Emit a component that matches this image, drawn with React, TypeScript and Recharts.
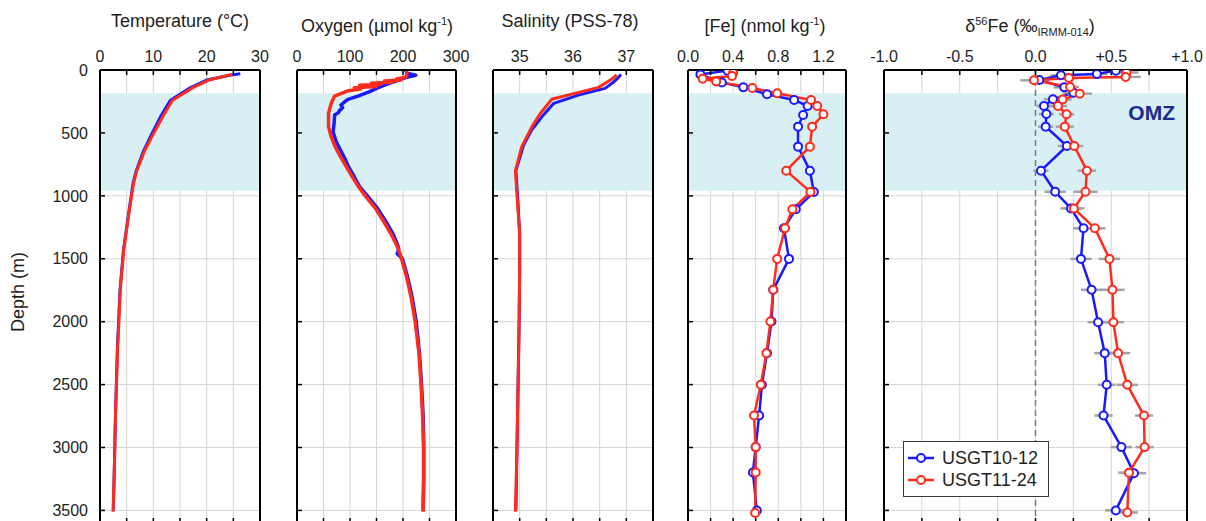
import React from 'react';
import {
  LineChart,
  Line,
  XAxis,
  YAxis,
  CartesianGrid,
  ReferenceArea,
  ReferenceLine,
  ErrorBar,
  Legend,
} from 'recharts';

const FONT = '"Liberation Sans", Arial, Helvetica, sans-serif';
const INK = '#1e1e1e';
const BLUE = '#1a1aff';
const RED = '#ff2b1c';
const GRID = '#d6d6d6';
const OMZ_FILL = '#d8f0f4';

// plot area runs from y=70 down to y=523 (bottom edge sits just below the page)
const CHART_H = 524;
const TOP_AXIS_H = 70;
// room either side of each plot so the end tick labels are not clipped
const SIDE = 24;

const depthDomain: [number, number] = [0, 3600];
const depthTicks = [0, 500, 1000, 1500, 2000, 2500, 3000, 3500];
const omzTop = 185;
const omzBottom = 960;

const cruise10 = 'USGT10-12';
const cruise11 = 'USGT11-24';

// ---- Temperature (°C)
const tempDepth10 = [30, 40, 80, 140, 240, 360, 500, 640, 800, 900, 1100, 1430, 1750, 2220, 2750, 3150, 3500];
const temp10 = [26.3, 24.6, 20.0, 17.0, 13.2, 11.5, 9.8, 8.2, 6.8, 6.2, 5.5, 4.4, 3.75, 3.25, 2.9, 2.7, 2.5];
const tempDepth11 = [35, 80, 140, 240, 360, 500, 640, 800, 900, 1100, 1430, 1750, 2220, 2750, 3150, 3510];
const temp11 = [24.8, 20.4, 17.4, 13.6, 11.9, 10.1, 8.4, 6.9, 6.3, 5.55, 4.45, 3.8, 3.3, 2.9, 2.7, 2.45];

// ---- Oxygen (µmol/kg)
const oxyDepth10 = [0, 25, 42, 60, 80, 101, 120, 146, 172, 207, 233, 260, 278, 300, 323, 340, 357, 424, 490, 570, 636, 702, 768, 848, 927, 1007, 1100, 1200, 1300, 1380, 1420, 1460, 1500, 1650, 1800, 2000, 2250, 2500, 2750, 3000, 3250, 3500];
const oxy10 = [205, 207, 224, 205, 192, 178, 165, 150, 137, 115, 96, 88, 83, 86, 80, 78, 71, 70, 68, 74, 82, 90, 97, 108, 118, 134, 152, 167, 181, 189, 192, 189, 199, 209, 217, 225, 231, 235, 238, 239, 239, 238];
const oxyDepth11 = [0, 50, 62, 72, 80, 88, 96, 105, 114, 122, 132, 142, 152, 165, 185, 207, 265, 344, 450, 530, 609, 689, 768, 861, 940, 1012, 1100, 1200, 1300, 1400, 1480, 1650, 1800, 2000, 2250, 2500, 2750, 3000, 3250, 3510];
const oxy11 = [207, 207, 200, 188, 196, 165, 182, 140, 158, 118, 150, 108, 120, 96, 84, 71, 64.5, 59.5, 59.5, 64.5, 72, 82, 93, 106, 118, 131, 148, 163, 177, 189, 196, 207, 215, 223, 230, 234, 237, 239, 239, 238];

// ---- Salinity (PSS-78)
const salDepth10 = [35, 60, 100, 146, 200, 265, 370, 480, 600, 700, 800, 1000, 1300, 1600, 2000, 2500, 3000, 3500];
const sal10 = [36.9, 36.85, 36.75, 36.6, 36.1, 35.64, 35.42, 35.22, 35.07, 35.0, 34.93, 34.96, 35.0, 35.0, 34.99, 34.97, 34.95, 34.93];
const salDepth11 = [40, 80, 138, 233, 344, 450, 609, 800, 1000, 1300, 1600, 2000, 2500, 3000, 3510];
const sal11 = [36.82, 36.7, 36.48, 35.6, 35.39, 35.23, 35.04, 34.92, 34.95, 35.0, 35.0, 34.99, 34.97, 34.95, 34.92];

// ---- Dissolved Fe (nmol/kg)
const feDepth10 = [5, 35, 100, 138, 193, 238, 286, 357, 450, 609, 800, 970, 1107, 1258, 1501, 1747, 1999, 2250, 2502, 2746, 2997, 3198, 3500];
const fe10 = [0.35, 0.11, 0.3, 0.49, 0.7, 0.94, 1.06, 1.02, 0.975, 0.975, 1.08, 1.115, 0.955, 0.85, 0.895, 0.755, 0.74, 0.7, 0.655, 0.63, 0.6, 0.575, 0.61];
const feDepth11 = [22, 48, 70, 92, 143, 185, 238, 286, 352, 450, 609, 800, 969, 1107, 1258, 1501, 1747, 1999, 2250, 2502, 2746, 2997, 3198, 3520];
const fe11 = [0.4, 0.39, 0.13, 0.25, 0.57, 0.79, 1.09, 1.145, 1.2, 1.1, 1.08, 0.87, 1.085, 0.925, 0.86, 0.79, 0.755, 0.73, 0.695, 0.645, 0.585, 0.6, 0.6, 0.595];

// ---- δ56Fe (‰) with 2SD
const d56Depth10 = [5, 32, 42, 79, 138, 180, 233, 286, 350, 450, 604, 800, 968, 1100, 1258, 1501, 1747, 2004, 2250, 2502, 2746, 2997, 3204, 3500];
const d5610 = [0.53, 0.405, 0.168, 0.025, 0.19, 0.25, 0.115, 0.056, 0.072, 0.067, 0.207, 0.036, 0.13, 0.234, 0.317, 0.3, 0.37, 0.413, 0.457, 0.47, 0.449, 0.567, 0.65, 0.53];
const d56Err10 = [0.05, 0.07, 0.07, 0.07, 0.07, 0.07, 0.06, 0.05, 0.05, 0.05, 0.06, 0.05, 0.07, 0.07, 0.07, 0.07, 0.07, 0.07, 0.07, 0.06, 0.06, 0.07, 0.08, 0.07];
const d56Depth11 = [20, 55, 64, 82, 135, 188, 235, 286, 352, 450, 604, 800, 968, 1100, 1258, 1501, 1747, 2004, 2250, 2502, 2746, 2997, 3200, 3516];
const d5611 = [0.6, 0.595, 0.22, -0.01, 0.228, 0.292, 0.179, 0.148, 0.205, 0.193, 0.256, 0.339, 0.33, 0.253, 0.392, 0.488, 0.508, 0.514, 0.545, 0.606, 0.716, 0.72, 0.617, 0.606];
const d56Err11 = [0.08, 0.1, 0.06, 0.09, 0.06, 0.08, 0.06, 0.06, 0.05, 0.06, 0.06, 0.06, 0.08, 0.07, 0.07, 0.07, 0.08, 0.07, 0.08, 0.07, 0.06, 0.06, 0.07, 0.07];

// x-axis ticks (every gridline gets a tick, only some are labelled)
const tempTicks = [0, 5, 10, 15, 20, 25, 30];
const oxyTicks = [0, 50, 100, 150, 200, 250, 300];
const salTicks = [34.5, 35, 35.5, 36, 36.5, 37, 37.5];
const feTicks = [0, 0.2, 0.4, 0.6, 0.8, 1.0, 1.2, 1.4];
const d56Ticks = [-1, -0.75, -0.5, -0.25, 0, 0.25, 0.5, 0.75, 1];

type Pt = { d: number; v: number; e?: number };

const profile = (depths: number[], values: number[], errs?: number[]): Pt[] =>
  depths.map((d, i) => (errs ? { d, v: values[i], e: errs[i] } : { d, v: values[i] }));

type Series = { name: string; color: string; data: Pt[]; width: number; dots?: boolean; errors?: boolean };

const blank = () => '';

const DepthLabel = () => (
  <text
    x={18}
    y={292}
    transform="rotate(-90 18 292)"
    textAnchor="middle"
    dominantBaseline="central"
    fontSize={18}
    fill={INK}
  >
    Depth (m)
  </text>
);

const LegendBox = (props: any) => {
  const items = props.payload || [];
  return (
    <div
      style={{
        border: '1.5px solid #3a3a3a',
        background: '#fff',
        padding: '5px 6px 5px 4px',
        fontSize: 18,
        lineHeight: '22px',
        color: INK,
        boxSizing: 'border-box',
      }}
    >
      {items.map((it: any) => (
        <div key={it.value} style={{ display: 'flex', alignItems: 'center' }}>
          <svg width={26} height={12} style={{ marginRight: 8 }}>
            <line x1={0} y1={6} x2={26} y2={6} stroke={it.color} strokeWidth={2.5} />
            <circle cx={13} cy={6} r={4} fill="#fff" stroke={it.color} strokeWidth={2} />
          </svg>
          <span>{it.value}</span>
        </div>
      ))}
    </div>
  );
};

interface PanelProps {
  left: number;
  leftAxisWidth: number;
  plotWidth: number;
  domain: [number, number];
  ticks: number[];
  format: (v: number) => string;
  series: Series[];
  depthLabels?: boolean;
  zeroLine?: boolean;
  omzLabel?: boolean;
  legend?: boolean;
}

function Panel(p: PanelProps) {
  const padLeft = p.depthLabels ? 0 : SIDE;
  const width = padLeft + p.leftAxisWidth + p.plotWidth + 1 + SIDE;
  const frame = { stroke: '#000', strokeWidth: 2 };
  const tickLine = { stroke: '#000', strokeWidth: 1.5 };
  return (
    <div style={{ position: 'absolute', left: p.left - padLeft, top: 0 }}>
      <LineChart
        layout="vertical"
        width={width}
        height={CHART_H}
        margin={{ top: 0, right: SIDE, bottom: 0, left: padLeft }}
      >
        <ReferenceArea
          y1={omzTop}
          y2={omzBottom}
          fill={OMZ_FILL}
          fillOpacity={1}
          stroke="none"
          label={
            p.omzLabel
              ? { value: 'OMZ', position: 'insideTopRight', offset: 12, fill: '#1b2a8c', fontSize: 21, fontWeight: 700 }
              : undefined
          }
        />
        <CartesianGrid stroke={GRID} strokeWidth={1} />
        {p.zeroLine && <ReferenceLine x={0} stroke="#7a7a7a" strokeWidth={1.5} strokeDasharray="6 4" />}
        <XAxis
          type="number"
          orientation="top"
          height={TOP_AXIS_H}
          domain={p.domain}
          ticks={p.ticks}
          interval={0}
          allowDataOverflow
          tickFormatter={p.format}
          tickSize={-5}
          tickMargin={13}
          axisLine={frame}
          tickLine={tickLine}
          tick={{ fontSize: 16, fill: INK }}
        />
        <XAxis
          xAxisId="b"
          type="number"
          orientation="bottom"
          height={1}
          domain={p.domain}
          ticks={p.ticks}
          interval={0}
          allowDataOverflow
          tickFormatter={blank}
          tickSize={-5}
          axisLine={frame}
          tickLine={tickLine}
        />
        <YAxis
          type="number"
          dataKey="d"
          width={p.leftAxisWidth}
          domain={depthDomain}
          ticks={depthTicks}
          interval={0}
          allowDataOverflow
          tickFormatter={p.depthLabels ? (v: number) => String(v) : blank}
          tickSize={-5}
          tickMargin={17}
          axisLine={frame}
          tickLine={tickLine}
          tick={{ fontSize: 16, fill: INK }}
          label={p.depthLabels ? <DepthLabel /> : undefined}
        />
        <YAxis
          yAxisId="r"
          type="number"
          orientation="right"
          width={1}
          domain={depthDomain}
          ticks={depthTicks}
          interval={0}
          allowDataOverflow
          tickFormatter={blank}
          tickSize={-5}
          axisLine={frame}
          tickLine={tickLine}
        />
        {p.series.map((s) => (
          <Line
            key={s.name}
            name={s.name}
            data={s.data}
            dataKey="v"
            type="linear"
            stroke={s.color}
            strokeWidth={s.width}
            strokeLinejoin="round"
            dot={s.dots ? { r: 4, fill: '#fff', stroke: s.color, strokeWidth: 2 } : false}
            activeDot={false}
            isAnimationActive={false}
          >
            {s.errors && (
              <ErrorBar dataKey="e" direction="x" width={0} stroke="#a3a3a3" strokeWidth={2.5} isAnimationActive={false} />
            )}
          </Line>
        ))}
        {p.legend && (
          <Legend
            content={<LegendBox />}
            layout="horizontal"
            verticalAlign="middle"
            align="center"
            wrapperStyle={{ left: padLeft + 20, top: 441, width: 146 }}
          />
        )}
      </LineChart>
    </div>
  );
}

const Title = ({ center, children }: { center: number; children: React.ReactNode }) => (
  <div
    style={{
      position: 'absolute',
      left: center - 150,
      top: 10,
      width: 300,
      textAlign: 'center',
      fontSize: 18,
      lineHeight: '22px',
      whiteSpace: 'nowrap',
    }}
  >
    {children}
  </div>
);

const sup = { fontSize: 11, verticalAlign: 7 } as const;
const sub = { fontSize: 11, verticalAlign: -4 } as const;

export default function App() {
  return (
    <div
      style={{
        position: 'fixed',
        left: 0,
        top: 0,
        width: 1206,
        height: 521,
        overflow: 'hidden',
        background: '#fff',
        fontFamily: FONT,
        color: INK,
      }}
    >
      <Title center={180}>Temperature (°C)</Title>
      <Title center={377}>
        Oxygen (µmol kg<span style={sup}>-1</span>)
      </Title>
      <Title center={570}>Salinity (PSS-78)</Title>
      <Title center={765}>
        [Fe] (nmol kg<span style={sup}>-1</span>)
      </Title>
      <Title center={1030}>
        δ<span style={sup}>56</span>Fe (‰<span style={sub}>IRMM-014</span>)
      </Title>

      <Panel
        left={0}
        leftAxisWidth={100}
        plotWidth={160}
        domain={[0, 30]}
        ticks={tempTicks}
        format={(v) => (v % 10 === 0 ? String(v) : '')}
        depthLabels
        series={[
          { name: cruise10, color: BLUE, data: profile(tempDepth10, temp10), width: 3 },
          { name: cruise11, color: RED, data: profile(tempDepth11, temp11), width: 3 },
        ]}
      />
      <Panel
        left={296}
        leftAxisWidth={1}
        plotWidth={159}
        domain={[0, 300]}
        ticks={oxyTicks}
        format={(v) => (v % 100 === 0 ? String(v) : '')}
        series={[
          { name: cruise10, color: BLUE, data: profile(oxyDepth10, oxy10), width: 3.5 },
          { name: cruise11, color: RED, data: profile(oxyDepth11, oxy11), width: 3.5 },
        ]}
      />
      <Panel
        left={492}
        leftAxisWidth={1}
        plotWidth={160}
        domain={[34.5, 37.5]}
        ticks={salTicks}
        format={(v) => (Number.isInteger(v) ? String(v) : '')}
        series={[
          { name: cruise10, color: BLUE, data: profile(salDepth10, sal10), width: 3 },
          { name: cruise11, color: RED, data: profile(salDepth11, sal11), width: 3 },
        ]}
      />
      <Panel
        left={687}
        leftAxisWidth={1}
        plotWidth={158}
        domain={[0, 1.4]}
        ticks={feTicks}
        format={(v) => (Math.round(v * 10) % 4 === 0 ? v.toFixed(1) : '')}
        series={[
          { name: cruise10, color: BLUE, data: profile(feDepth10, fe10), width: 2.5, dots: true },
          { name: cruise11, color: RED, data: profile(feDepth11, fe11), width: 2.5, dots: true },
        ]}
      />
      <Panel
        left={883}
        leftAxisWidth={1}
        plotWidth={303}
        domain={[-1, 1]}
        ticks={d56Ticks}
        format={(v) => (Math.round(v * 100) % 50 === 0 ? (v > 0 ? '+' : '') + v.toFixed(1) : '')}
        zeroLine
        omzLabel
        legend
        series={[
          { name: cruise10, color: BLUE, data: profile(d56Depth10, d5610, d56Err10), width: 2.5, dots: true, errors: true },
          { name: cruise11, color: RED, data: profile(d56Depth11, d5611, d56Err11), width: 2.5, dots: true, errors: true },
        ]}
      />
    </div>
  );
}
